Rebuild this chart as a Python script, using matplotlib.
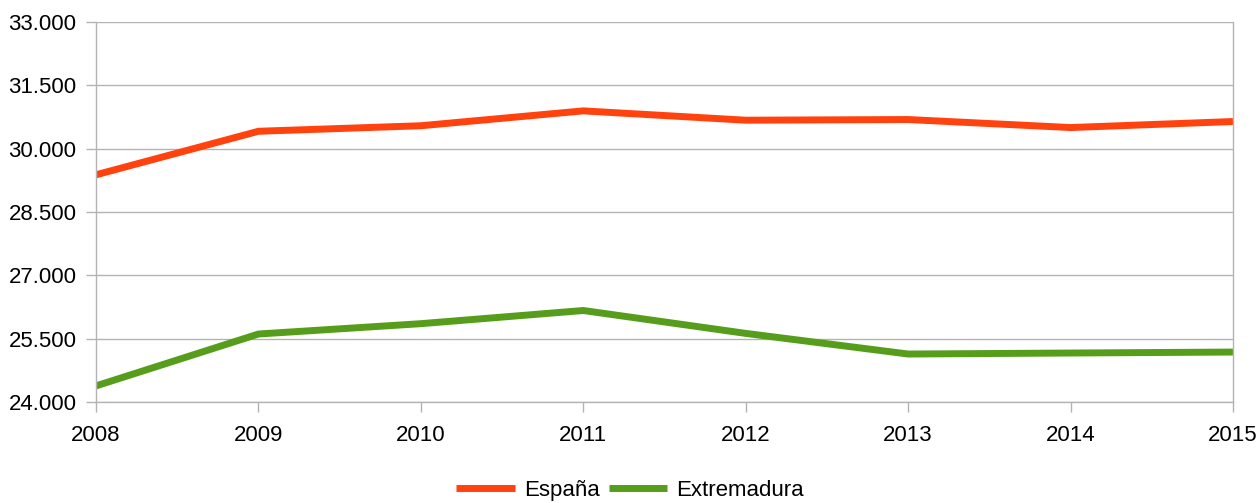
import matplotlib
matplotlib.use("Agg")
import matplotlib.pyplot as plt
from matplotlib.ticker import FuncFormatter, MultipleLocator

plt.rcParams['font.family'] = ['Liberation Sans', 'DejaVu Sans']

years = [2008, 2009, 2010, 2011, 2012, 2013, 2014, 2015]
espana = [29381, 30412, 30543, 30895, 30674, 30690, 30500, 30643]
extremadura = [24381, 25610, 25855, 26167, 25625, 25136, 25160, 25183]
series_names = ["España", "Extremadura"]
colors = ["#ff420e", "#579d1c"]

fig = plt.figure(figsize=(12.6, 5.03), dpi=100)
ax = fig.add_axes([96/1260, 1 - 402/503, (1233-96)/1260, (402-22)/503])

ax.plot(years, espana, color=colors[0], lw=5, label=series_names[0],
        solid_joinstyle='miter', solid_capstyle='butt')
ax.plot(years, extremadura, color=colors[1], lw=5, label=series_names[1],
        solid_joinstyle='miter', solid_capstyle='butt')

ax.set_xlim(years[0], years[-1])
ax.set_ylim(24000, 33000)
ax.yaxis.set_major_locator(MultipleLocator(1500))
ax.yaxis.set_major_formatter(FuncFormatter(lambda v, p: f"{int(v):,}".replace(",", ".")))
ax.set_xticks(years)
ax.set_xticklabels([str(y) for y in years])

grid_c = "#b3b3b3"
ax.grid(axis='y', color=grid_c, lw=1)
ax.set_axisbelow(True)
for s in ['left', 'bottom', 'right']:
    ax.spines[s].set_color(grid_c)
    ax.spines[s].set_linewidth(1)
ax.spines['top'].set_visible(False)
ax.tick_params(axis='both', colors=grid_c, labelcolor='black', labelsize=16, length=7.5, width=1)
ax.tick_params(axis='x', pad=9)
ax.tick_params(axis='y', pad=6.5)

fig.legend(loc='lower center', bbox_to_anchor=(0.5, -0.036), ncol=2, frameon=False,
           fontsize=16, handlelength=2.65, handletextpad=0.4, columnspacing=0.4)

fig.savefig("out.png", dpi=100)
